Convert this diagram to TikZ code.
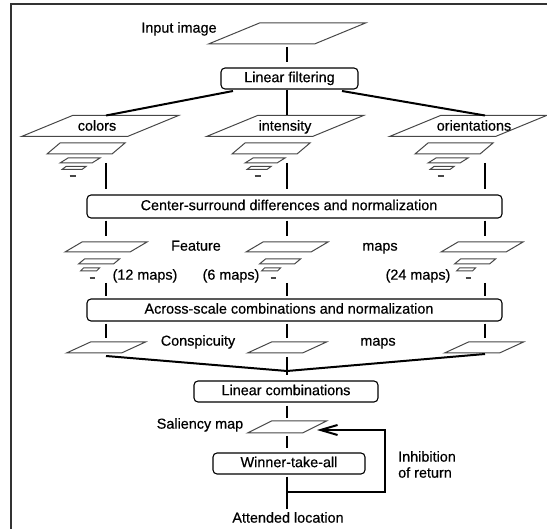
\documentclass[tikz,border=0pt]{standalone}
\usepackage{fontspec}
\setmainfont{Liberation Sans}[FakeBold=0.5]
\usetikzlibrary{arrows.meta}
\newcommand{\lblfont}{\fontsize{14.4}{17}\selectfont}
% parallelogram: name, cx, cy, width, height, slant
\newcommand{\plg}[6]{%
  \coordinate (#1) at ({#2},{#3});
  \draw[plgline] ({#2-#4/2+#6/2},{#3-#5/2}) -- ++(#4,0) -- ++({-#6},#5) -- ++({-#4},0) -- cycle;}
% pyramid of the first row: X, prefix
\newcommand{\toppyr}[2]{%
  \plg{#2a}{#1}{126}{106}{21}{51}
  \plg{#2b}{#1-14}{148.5}{65}{11}{13}
  \plg{#2c}{#1-20}{160.5}{32}{5}{8}
  \plg{#2d}{#1-26}{168}{20}{3}{4}
  \draw[plgline,line width=1.5pt] ({#1-30.5},176) -- ++(6,0);}
% pyramid of feature maps: X, prefix
\newcommand{\featpyr}[2]{%
  \plg{#2a}{#1}{247}{65}{10}{17}
  \plg{#2b}{#1-7}{261.5}{35}{5}{6}
  \plg{#2c}{#1-16}{269.5}{16}{3}{3}
  \draw[plgline,line width=1.5pt] ({#1-16.5},278) -- ++(5,0);}
\begin{document}
\begin{tikzpicture}[x=1pt,y=-1pt,
  lbl/.style={font=\lblfont, inner sep=0pt, text height=10.3pt, text depth=3pt},
  procbox/.style={draw, line width=1.1pt, rounded corners=4pt, font=\lblfont,
    inner sep=0pt, text height=10.3pt, text depth=3pt},
  conn/.style={line width=2pt},
  plgline/.style={line width=1pt, draw=black!72},
  frameline/.style={line width=1.6pt, draw=black!80}]
\useasboundingbox (0,0) rectangle (547,529);
\draw[frameline] (11,529) -- (11,4) -- (547,4);

% input image
\node[lbl] (tin) at (179,29) {Input image};
\plg{inimg}{287}{33.5}{106}{21}{51}
\coordinate (inB) at (287,44);
\node[procbox, minimum width=137pt, minimum height=21pt] (lf) at (289.5,78.5) {Linear filtering};
\draw[conn, shorten <=3pt, shorten >=5pt] (inB) -- (lf.north -| inB);

% first row of pyramids
\toppyr{100}{col}
\toppyr{285}{int}
\toppyr{468}{ori}
\node[lbl] (tcol) at (97,127) {colors};
\node[lbl] (tint) at (285,127) {intensity};
\node[lbl] (tori) at (474,127) {orientations};

\coordinate (lfL) at (233,91);
\coordinate (lfR) at (342,91);
\coordinate (colTop) at (106,115.5);
\coordinate (intTop) at (287,115.5);
\coordinate (oriTop) at (485,115.5);
\draw[conn] (lfL) -- (colTop);
\draw[conn] (lf.south -| intTop) -- (intTop);
\draw[conn] (lfR) -- (oriTop);

% center-surround
\node[procbox, minimum width=415pt, minimum height=23pt] (cs) at (294.5,206.5)
  {\kern-11pt Center-surround differences and normalization};
\coordinate (colL) at (106,163);
\coordinate (intL) at (287,163);
\coordinate (oriL) at (485,163);
\draw[conn, shorten >=5pt] (colL) -- (cs.north -| colL);
\draw[conn, shorten >=5pt] (intL) -- (cs.north -| intL);
\draw[conn, shorten >=5pt] (oriL) -- (cs.north -| oriL);

% feature maps
\featpyr{106}{fl}
\featpyr{287}{fc}
\featpyr{482}{fr}
\node[lbl] (tfeat) at (196,247) {Feature};
\node[lbl] (tfmaps) at (380,247) {maps};
\node[lbl] (t12) at (145,276) {(12 maps)};
\node[lbl] (t6) at (231,276) {(6 maps)};
\node[lbl] (t24) at (418,276) {(24 maps)};
\coordinate (flT) at (106,236);
\coordinate (fcT) at (287,236);
\coordinate (frT) at (485,236);
\draw[conn, shorten <=2pt] (cs.south -| flT) -- (flT);
\draw[conn, shorten <=2pt] (cs.south -| fcT) -- (fcT);
\draw[conn, shorten <=2pt] (cs.south -| frT) -- (frT);

% across-scale
\node[procbox, minimum width=415pt, minimum height=22pt] (as) at (294.5,310)
  {\kern-11pt Across-scale combinations and normalization};
\coordinate (flB) at (106,283);
\coordinate (fcB) at (287,283);
\coordinate (frB) at (485,283);
\draw[conn, shorten >=2pt] (flB) -- (as.north -| flB);
\draw[conn, shorten >=2pt] (fcB) -- (as.north -| fcB);
\draw[conn, shorten >=2pt] (frB) -- (as.north -| frB);

% conspicuity maps
\plg{cml}{106}{347.5}{55}{11}{24}
\plg{cmc}{287}{347.5}{55}{11}{24}
\plg{cmr}{484}{347.5}{55}{11}{24}
\node[lbl] (tconsp) at (198,342) {Conspicuity};
\node[lbl] (tcmaps) at (378,342) {maps};
\coordinate (cmlT) at (106,338);
\coordinate (cmcT) at (287,338);
\coordinate (cmrT) at (485,338);
\draw[conn, shorten <=2pt] (as.south -| cmlT) -- (cmlT);
\draw[conn, shorten <=2pt] (as.south -| cmcT) -- (cmcT);
\draw[conn, shorten <=2pt] (as.south -| cmrT) -- (cmrT);
\coordinate (cmlB) at (106,356);
\coordinate (cmcB) at (287,357);
\coordinate (cmrB) at (485,354);
\coordinate (join) at (287,371);

\node[procbox, minimum width=184pt, minimum height=21pt] (lc) at (286,391.5) {Linear combinations};
\draw[conn] (cmlB) -- (join);
\draw[conn] (cmrB) -- (join);
\draw[conn, shorten >=5pt] (cmcB) -- (lc.north -| cmcB);

% saliency map
\plg{sal}{287}{427}{55}{12}{24}
\node[lbl] (tsal) at (200,425) {Saliency map};
\coordinate (salT) at (287,418);
\coordinate (salB) at (287,436);
\draw[conn, shorten <=3pt] (lc.south -| salT) -- (salT);

\node[procbox, minimum width=152pt, minimum height=21pt] (wta) at (289,463.5) {Winner-take-all};
\draw[conn, shorten >=4pt] (salB) -- (wta.north -| salB);

% output and inhibition of return
\coordinate (att) at (287,509);
\draw[conn, shorten <=2pt] (wta.south -| att) -- (att);
\node[lbl] (tatt) at (288,519) {Attended location};
\coordinate (fbA) at (287,492);
\coordinate (fbB) at (385,492);
\coordinate (fbC) at (385,430);
\coordinate (fbTip) at (317,430);
\draw[conn, -{Straight Barb[length=17pt,width=10pt,line width=2pt]}] (fbA) -- (fbB) -- (fbC) -- (fbTip);
\node[lbl, anchor=west] (tinh) at (398,458) {Inhibition};
\node[lbl, anchor=west] (tret) at (398,474) {of return};
\end{tikzpicture}
\end{document}
